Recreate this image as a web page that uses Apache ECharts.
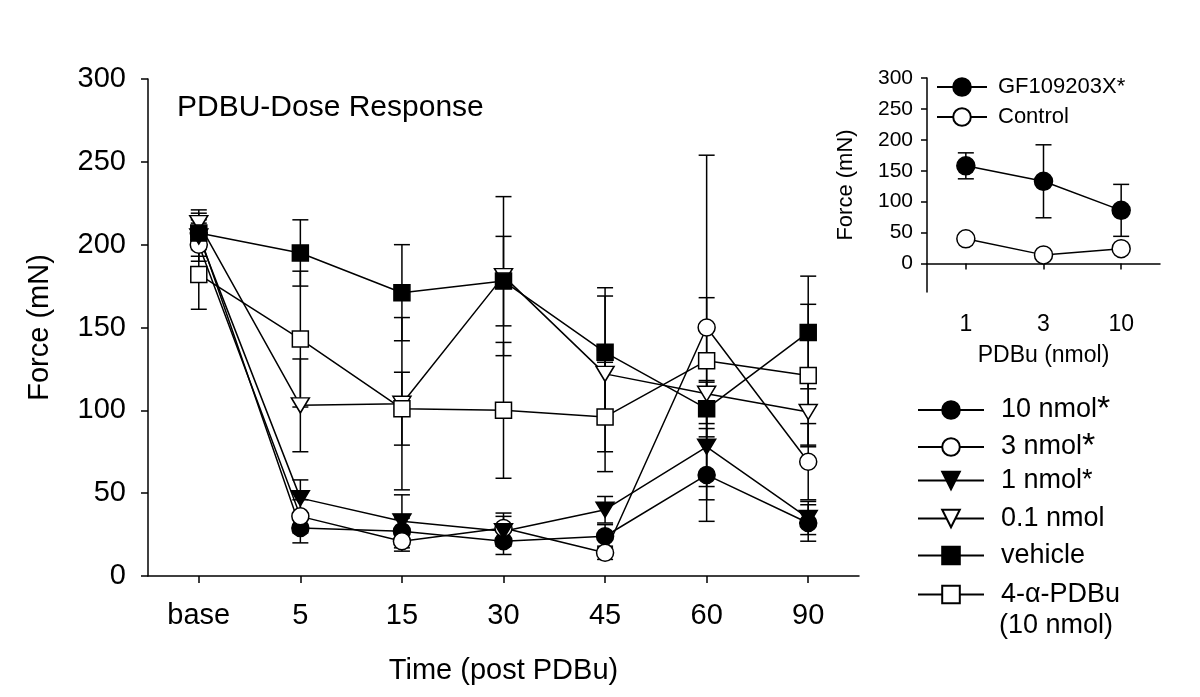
<!DOCTYPE html>
<html>
<head>
<meta charset="utf-8">
<script src="https://cdn.jsdelivr.net/npm/echarts@6/dist/echarts.min.js"></script>
<style>html,body{margin:0;padding:0;background:#fff}#c{width:1200px;height:697px}</style>
</head>
<body>
<div id="c"></div>
<script>
// ---- main chart data ----
const categories = ['base', '5', '15', '30', '45', '60', '90'];
const yTicks = [0, 50, 100, 150, 200, 250, 300];
const nmol10 = [207, 29, 27, 21, 24, 61, 32];
const nmol10Err = [14, 9, 8, 8, 7, 28, 11];
const nmol3 = [200, 36, 21, 29, 14, 150, 69];
const nmol3Err = [10, 10, 6, 9, 4, 104, 23];
const nmol1 = [205, 47, 33, 27, 40, 78, 35];
const nmol1Err = [8, 11, 16, 9, 8, 24, 10];
const nmol01 = [213, 103, 104, 181, 122, 110, 99];
const nmol01Err = [6, 28, 52, 48, 47, 7, 20];
const vehicle = [207, 195, 171, 178, 135, 101, 147];
const vehicleErr = [8, 20, 29, 27, 39, 17, 34];
const alphaPDBu = [182, 143, 101, 100, 96, 130, 121];
const alphaPDBuErr = [21, 41, 22, 41, 33, 38, 43];

// ---- inset data ----
const insetCategories = ['1', '3', '10'];
const insetTicks = [0, 50, 100, 150, 200, 250, 300];
const gf = [158, 133, 86];
const gfErr = [21, 59, 42];
const control = [40, 14, 24];
const controlErr = [0, 0, 0];

const FONT = "'Liberation Sans', Arial, sans-serif";
const BLACK = '#000';
const downTri = 'path://M0,0L20,0L10,17Z';

function errData(vals, errs) {
  return vals.map((v, i) => [i, v - errs[i], v + errs[i]]);
}
function renderErr(params, api) {
  const x = api.value(0);
  if (api.value(2) - api.value(1) <= 0) return null;
  const lo = api.coord([x, api.value(1)]);
  const hi = api.coord([x, api.value(2)]);
  const w = 8;
  const st = { stroke: BLACK, lineWidth: 1.5, fill: null };
  return {
    type: 'group',
    children: [
      { type: 'line', shape: { x1: lo[0], y1: lo[1], x2: hi[0], y2: hi[1] }, style: st },
      { type: 'line', shape: { x1: lo[0] - w, y1: lo[1], x2: lo[0] + w, y2: lo[1] }, style: st },
      { type: 'line', shape: { x1: hi[0] - w, y1: hi[1], x2: hi[0] + w, y2: hi[1] }, style: st }
    ]
  };
}

const mainDefs = [
  { name: '10 nmol*', data: nmol10, err: nmol10Err, symbol: 'circle', size: 17, fill: BLACK },
  { name: '3 nmol*', data: nmol3, err: nmol3Err, symbol: 'circle', size: 17, fill: '#fff' },
  { name: '1 nmol*', data: nmol1, err: nmol1Err, symbol: downTri, size: [18, 15], fill: BLACK },
  { name: '0.1 nmol', data: nmol01, err: nmol01Err, symbol: downTri, size: [18, 15], fill: '#fff' },
  { name: 'vehicle', data: vehicle, err: vehicleErr, symbol: 'rect', size: 16, fill: BLACK },
  { name: '4-α-PDBu', data: alphaPDBu, err: alphaPDBuErr, symbol: 'rect', size: 16, fill: '#fff' }
];
const insetDefs = [
  { name: 'GF109203X*', data: gf, err: gfErr, fill: BLACK },
  { name: 'Control', data: control, err: controlErr, fill: '#fff' }
];

const series = [];
mainDefs.forEach(d => {
  series.push({
    type: 'custom', xAxisIndex: 0, yAxisIndex: 0, z: 1, silent: true,
    renderItem: renderErr, data: errData(d.data, d.err), encode: { x: 0, y: [1, 2] }
  });
});
mainDefs.forEach(d => {
  series.push({
    type: 'line', name: d.name, xAxisIndex: 0, yAxisIndex: 0, z: 3,
    data: d.data, symbol: d.symbol, symbolSize: d.size, showAllSymbol: true,
    lineStyle: { color: BLACK, width: 1.5 },
    itemStyle: { color: d.fill, borderColor: BLACK, borderWidth: 1.5 }
  });
});
insetDefs.forEach(d => {
  series.push({
    type: 'custom', xAxisIndex: 1, yAxisIndex: 1, z: 1, silent: true,
    renderItem: renderErr, data: errData(d.data, d.err), encode: { x: 0, y: [1, 2] }
  });
});
insetDefs.forEach(d => {
  series.push({
    type: 'line', name: d.name, xAxisIndex: 1, yAxisIndex: 1, z: 3,
    data: d.data, symbol: 'circle', symbolSize: 18, showAllSymbol: true,
    lineStyle: { color: BLACK, width: 1.5 },
    itemStyle: { color: d.fill, borderColor: BLACK, borderWidth: 1.5 }
  });
});

const axisLine = { show: true, lineStyle: { color: BLACK, width: 1.5 } };
const rich = { s: { fontSize: 34, fontFamily: FONT, color: BLACK, lineHeight: 22 } };

// main legend: one legend box per row so rows keep the reference spacing
const legendRows = [404, 441, 478, 516, 553, 592];
const mainLegends = mainDefs.map((d, i) => ({
  orient: 'vertical', left: 912, top: legendRows[i] - 16,
  data: [d.name], itemWidth: 66, itemHeight: 22, selectedMode: false,
  textStyle: { fontSize: 27, color: BLACK, fontFamily: FONT, lineHeight: 22, padding: [0, 0, 0, 12], rich: rich },
  formatter: function (n) {
    if (n === '10 nmol*') return '10 nmol{s|*}';
    if (n === '3 nmol*') return '3 nmol{s|*}';
    return n;
  }
}));

const option = {
  animation: false,
  backgroundColor: '#fff',
  textStyle: { fontFamily: FONT, color: BLACK },
  title: {
    text: 'PDBU-Dose Response', left: 172, top: 88,
    textStyle: { fontFamily: FONT, fontSize: 30, fontWeight: 'normal', color: BLACK }
  },
  grid: [
    { left: 148, top: 79, right: 341, bottom: 121 },
    { left: 927, top: 78, right: 40, bottom: 405 }
  ],
  xAxis: [
    {
      type: 'category', gridIndex: 0, data: categories, boundaryGap: true,
      axisLine: axisLine,
      axisTick: { show: true, alignWithLabel: true, length: 7, lineStyle: { color: BLACK, width: 1.5 } },
      axisLabel: { fontSize: 29, color: BLACK, margin: 25, fontFamily: FONT },
      name: 'Time (post PDBu)', nameLocation: 'middle', nameGap: 80,
      nameTextStyle: { fontSize: 29, color: BLACK, fontFamily: FONT }
    },
    {
      type: 'category', gridIndex: 1, data: insetCategories, boundaryGap: true,
      axisLine: axisLine,
      axisTick: { show: true, alignWithLabel: true, length: 6, lineStyle: { color: BLACK, width: 1.5 } },
      axisLabel: { fontSize: 23, color: BLACK, margin: 21, fontFamily: FONT },
      name: 'PDBu (nmol)', nameLocation: 'middle', nameGap: 52,
      nameTextStyle: { fontSize: 23, color: BLACK, fontFamily: FONT }
    }
  ],
  yAxis: [
    {
      type: 'value', gridIndex: 0, min: 0, max: 300, interval: 50,
      axisLine: axisLine, splitLine: { show: false },
      axisTick: { show: true, length: 7, lineStyle: { color: BLACK, width: 1.5 } },
      axisLabel: { fontSize: 29, color: BLACK, margin: 22, fontFamily: FONT },
      name: 'Force (mN)', nameLocation: 'middle', nameGap: 94,
      nameTextStyle: { fontSize: 29, color: BLACK, fontFamily: FONT }
    },
    {
      type: 'value', gridIndex: 1, min: -46, max: 300,
      axisLine: axisLine, splitLine: { show: false },
      axisTick: { show: true, length: 6, customValues: insetTicks, lineStyle: { color: BLACK, width: 1.5 } },
      axisLabel: { fontSize: 21, color: BLACK, margin: 14, customValues: insetTicks, fontFamily: FONT },
      name: 'Force (mN)', nameLocation: 'middle', nameGap: 70,
      nameTextStyle: { fontSize: 22, color: BLACK, fontFamily: FONT }
    }
  ],
  legend: mainLegends.concat([
    {
      orient: 'vertical', left: 931, top: 71,
      data: insetDefs.map(d => d.name),
      itemWidth: 50, itemHeight: 22, itemGap: 8,
      selectedMode: false,
      textStyle: { fontSize: 22, color: BLACK, fontFamily: FONT, lineHeight: 22, padding: [0, 0, 0, 6] }
    }
  ]),
  graphic: [
    { type: 'text', left: 999, top: 612, style: { text: '(10 nmol)', font: '27px ' + FONT, fill: BLACK } }
  ],
  series: series
};

const chart = echarts.init(document.getElementById('c'), null, { renderer: 'canvas' });
chart.setOption(option);
</script>
</body>
</html>
